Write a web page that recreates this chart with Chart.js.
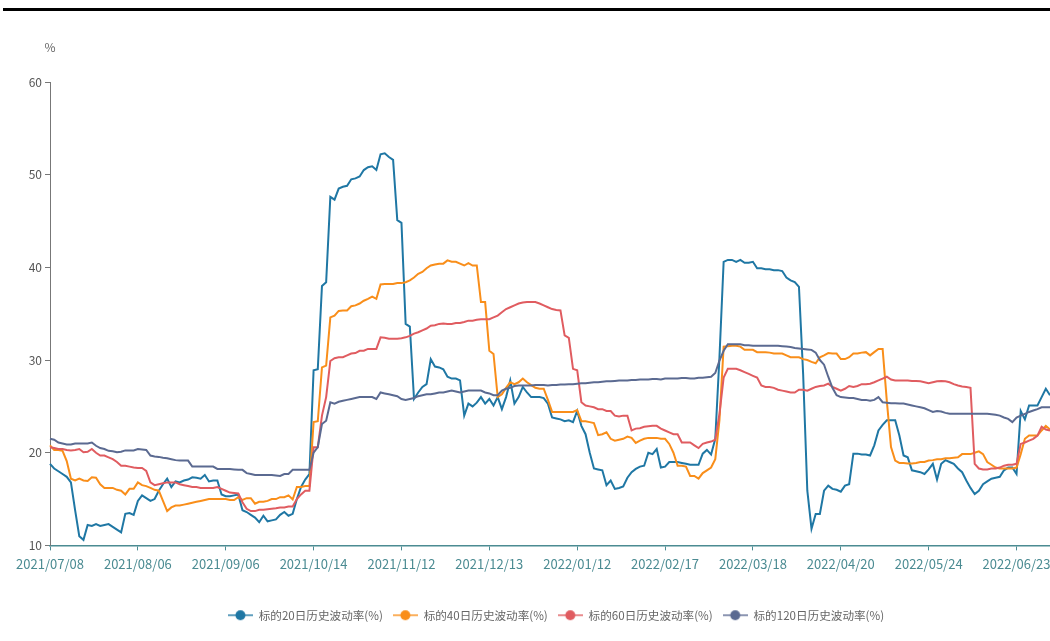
<!DOCTYPE html>
<html>
<head>
<meta charset="utf-8">
<script src="https://cdn.jsdelivr.net/npm/chart.js@4.4.0/dist/chart.umd.min.js"></script>
<style>
  body { margin: 0; background: #fff; overflow: hidden; }
  #wrap { position: relative; width: 1050px; height: 641px; overflow: hidden; }
  #topline { position: absolute; left: 3px; right: 0; top: 8px; height: 3px; background: #000; }
  #chart { position: absolute; left: 0; top: 0; }
</style>
</head>
<body>
<div id="wrap">
  <div id="topline"></div>
  <canvas id="chart" width="1112" height="641"></canvas>
</div>
<script>
// trading days
const dates = [
  "2021/07/08","2021/07/09","2021/07/12","2021/07/13","2021/07/14","2021/07/15","2021/07/16","2021/07/19","2021/07/20","2021/07/21","2021/07/22","2021/07/23","2021/07/26","2021/07/27","2021/07/28","2021/07/29","2021/07/30",
  "2021/08/02","2021/08/03","2021/08/04","2021/08/05","2021/08/06","2021/08/09","2021/08/10","2021/08/11","2021/08/12","2021/08/13","2021/08/16","2021/08/17","2021/08/18","2021/08/19","2021/08/20","2021/08/23","2021/08/24","2021/08/25","2021/08/26","2021/08/27","2021/08/30","2021/08/31",
  "2021/09/01","2021/09/02","2021/09/03","2021/09/06","2021/09/07","2021/09/08","2021/09/09","2021/09/10","2021/09/13","2021/09/14","2021/09/15","2021/09/16","2021/09/17","2021/09/22","2021/09/23","2021/09/24","2021/09/27","2021/09/28","2021/09/29","2021/09/30",
  "2021/10/08","2021/10/11","2021/10/12","2021/10/13","2021/10/14","2021/10/15","2021/10/18","2021/10/19","2021/10/20","2021/10/21","2021/10/22","2021/10/25","2021/10/26","2021/10/27","2021/10/28","2021/10/29",
  "2021/11/01","2021/11/02","2021/11/03","2021/11/04","2021/11/05","2021/11/08","2021/11/09","2021/11/10","2021/11/11","2021/11/12","2021/11/15","2021/11/16","2021/11/17","2021/11/18","2021/11/19","2021/11/22","2021/11/23","2021/11/24","2021/11/25","2021/11/26","2021/11/29","2021/11/30",
  "2021/12/01","2021/12/02","2021/12/03","2021/12/06","2021/12/07","2021/12/08","2021/12/09","2021/12/10","2021/12/13","2021/12/14","2021/12/15","2021/12/16","2021/12/17","2021/12/20","2021/12/21","2021/12/22","2021/12/23","2021/12/24","2021/12/27","2021/12/28","2021/12/29","2021/12/30","2021/12/31",
  "2022/01/04","2022/01/05","2022/01/06","2022/01/07","2022/01/10","2022/01/11","2022/01/12","2022/01/13","2022/01/14","2022/01/17","2022/01/18","2022/01/19","2022/01/20","2022/01/21","2022/01/24","2022/01/25","2022/01/26","2022/01/27","2022/01/28",
  "2022/02/07","2022/02/08","2022/02/09","2022/02/10","2022/02/11","2022/02/14","2022/02/15","2022/02/16","2022/02/17","2022/02/18","2022/02/21","2022/02/22","2022/02/23","2022/02/24","2022/02/25","2022/02/28",
  "2022/03/01","2022/03/02","2022/03/03","2022/03/04","2022/03/07","2022/03/08","2022/03/09","2022/03/10","2022/03/11","2022/03/14","2022/03/15","2022/03/16","2022/03/17","2022/03/18","2022/03/21","2022/03/22","2022/03/23","2022/03/24","2022/03/25","2022/03/28","2022/03/29","2022/03/30","2022/03/31",
  "2022/04/01","2022/04/06","2022/04/07","2022/04/08","2022/04/11","2022/04/12","2022/04/13","2022/04/14","2022/04/15","2022/04/18","2022/04/19","2022/04/20","2022/04/21","2022/04/22","2022/04/25","2022/04/26","2022/04/27","2022/04/28","2022/04/29",
  "2022/05/05","2022/05/06","2022/05/09","2022/05/10","2022/05/11","2022/05/12","2022/05/13","2022/05/16","2022/05/17","2022/05/18","2022/05/19","2022/05/20","2022/05/23","2022/05/24","2022/05/25","2022/05/26","2022/05/27","2022/05/30","2022/05/31",
  "2022/06/01","2022/06/02","2022/06/06","2022/06/07","2022/06/08","2022/06/09","2022/06/10","2022/06/13","2022/06/14","2022/06/15","2022/06/16","2022/06/17","2022/06/20","2022/06/21","2022/06/22","2022/06/23","2022/06/24","2022/06/27","2022/06/28","2022/06/29","2022/06/30",
  "2022/07/01","2022/07/04","2022/07/05"
];

// dates that get a label on the x axis
const tickDates = ["2021/07/08","2021/08/06","2021/09/06","2021/10/14","2021/11/12","2021/12/13","2022/01/12","2022/02/17","2022/03/18","2022/04/20","2022/05/24","2022/06/23"];

const vol20 = [
  18.8,18.3,18.0,17.7,17.4,16.8,13.8,11.0,10.6,12.2,
  12.1,12.3,12.1,12.2,12.3,12.0,11.7,11.4,13.4,13.5,
  13.3,14.8,15.4,15.1,14.8,15.0,15.9,16.6,17.2,16.3,
  16.9,16.8,17.0,17.1,17.35,17.3,17.2,17.6,16.9,17.0,
  17.0,15.5,15.3,15.3,15.4,15.5,13.8,13.6,13.3,13.0,
  12.5,13.2,12.6,12.7,12.8,13.3,13.6,13.2,13.4,15.0,
  16.3,17.1,17.7,28.9,29.0,38.0,38.4,47.6,47.3,48.5,
  48.7,48.8,49.5,49.6,49.8,50.5,50.8,50.9,50.5,52.2,
  52.3,51.9,51.6,45.1,44.8,33.9,33.6,25.8,26.5,27.1,
  27.4,30.1,29.3,29.2,29.0,28.2,28.0,28.0,27.8,24.0,
  25.3,25.0,25.4,26.0,25.3,25.8,25.1,26.0,24.7,26.0,
  27.8,25.3,26.0,27.1,26.5,26.0,26.0,26.0,25.9,25.3,
  23.8,23.7,23.6,23.4,23.5,23.3,24.5,22.9,22.0,20.0,
  18.3,18.2,18.1,16.5,17.0,16.1,16.2,16.35,17.3,17.9,
  18.25,18.5,18.6,20.0,19.85,20.4,18.4,18.5,19.0,19.0,
  19.0,18.9,18.8,18.7,18.7,18.7,19.9,20.3,19.8,21.5,
  30.3,40.6,40.8,40.8,40.6,40.8,40.5,40.5,40.6,39.9,
  39.9,39.8,39.8,39.7,39.7,39.6,38.9,38.6,38.4,37.9,
  28.5,15.9,11.8,13.4,13.4,15.9,16.45,16.1,16.0,15.8,
  16.45,16.6,19.9,19.9,19.8,19.8,19.7,20.8,22.4,23.0,
  23.5,23.5,23.5,21.85,19.7,19.5,18.1,18.0,17.9,17.7,
  18.2,18.8,17.1,18.8,19.2,19.0,18.8,18.3,17.9,17.0,
  16.2,15.55,15.9,16.6,16.9,17.2,17.3,17.4,18.1,18.4,
  18.4,17.7,24.5,23.6,25.1,25.1,25.1,26.0,26.9,26.2
];

const vol40 = [
  20.8,20.3,20.3,20.2,19.1,17.2,17.0,17.2,17.0,16.95,
  17.35,17.3,16.6,16.2,16.2,16.2,16.0,15.9,15.5,16.1,
  16.1,16.8,16.5,16.4,16.2,16.0,15.9,14.8,13.7,14.1,
  14.3,14.3,14.4,14.5,14.6,14.7,14.8,14.9,15.0,15.0,
  15.0,15.0,15.0,14.9,14.9,15.2,14.9,15.1,15.1,14.5,
  14.7,14.7,14.8,15.0,15.0,15.2,15.2,15.4,14.95,16.3,
  16.3,16.4,16.4,23.3,23.4,29.2,29.4,34.6,34.8,35.3,
  35.35,35.35,35.8,35.9,36.1,36.4,36.6,36.85,36.6,38.15,
  38.2,38.2,38.2,38.3,38.3,38.4,38.6,38.9,39.3,39.5,
  39.9,40.2,40.3,40.4,40.4,40.75,40.6,40.6,40.4,40.2,
  40.45,40.2,40.2,36.25,36.25,31.0,30.65,26.0,26.3,27.0,
  27.6,27.4,27.6,28.0,27.6,27.3,27.0,26.9,26.9,25.7,
  24.4,24.4,24.4,24.4,24.4,24.4,24.6,23.4,23.4,23.3,
  23.2,21.9,22.0,22.2,21.5,21.3,21.4,21.5,21.75,21.6,
  21.05,21.3,21.5,21.6,21.6,21.6,21.5,21.5,20.95,20.0,
  18.6,18.6,18.5,17.5,17.5,17.2,17.8,18.1,18.4,19.3,
  23.5,31.45,31.5,31.55,31.55,31.45,31.1,31.1,31.1,30.85,
  30.85,30.85,30.8,30.7,30.7,30.7,30.5,30.3,30.3,30.3,
  30.1,30.0,29.8,29.65,30.3,30.5,30.75,30.7,30.7,30.1,
  30.1,30.3,30.7,30.7,30.8,30.85,30.5,30.85,31.2,31.2,
  25.6,20.6,19.15,18.9,18.9,18.85,18.85,18.9,19.0,19.0,
  19.15,19.2,19.3,19.3,19.4,19.4,19.45,19.5,19.85,19.85,
  19.85,20.0,20.15,19.85,19.0,18.7,18.4,18.3,18.3,18.3,
  18.3,18.4,19.85,21.5,21.85,21.85,21.85,22.4,22.9,22.5
];

const vol60 = [
  20.6,20.5,20.4,20.4,20.3,20.25,20.3,20.4,20.05,20.1,
  20.4,20.0,19.7,19.7,19.5,19.3,19.0,18.6,18.6,18.5,
  18.4,18.35,18.35,18.05,16.8,16.5,16.6,16.7,16.8,16.8,
  16.8,16.6,16.5,16.4,16.3,16.3,16.2,16.2,16.2,16.2,
  16.3,16.1,15.9,15.7,15.65,15.6,14.65,13.95,13.7,13.7,
  13.85,13.85,13.9,13.95,14.0,14.1,14.1,14.2,14.2,15.0,
  15.5,15.9,15.9,20.6,20.6,24.0,26.0,29.9,30.2,30.3,
  30.3,30.5,30.7,30.75,31.0,31.0,31.2,31.2,31.2,32.45,
  32.4,32.3,32.3,32.3,32.35,32.45,32.6,32.85,33.0,33.2,
  33.4,33.7,33.75,33.9,33.95,33.9,33.9,34.0,34.0,34.1,
  34.25,34.25,34.35,34.4,34.4,34.4,34.6,34.8,35.15,35.5,
  35.7,35.9,36.1,36.2,36.25,36.25,36.25,36.1,35.9,35.7,
  35.5,35.4,35.35,32.65,32.4,29.05,28.9,25.45,25.1,25.0,
  24.9,24.7,24.7,24.5,24.5,24.0,23.9,24.0,24.0,22.4,
  22.6,22.65,22.8,22.85,22.9,22.9,22.6,22.4,22.2,22.0,
  22.0,21.1,21.1,21.1,20.8,20.5,20.95,21.1,21.2,21.4,
  24.2,28.1,29.05,29.05,29.05,28.9,28.7,28.5,28.3,28.1,
  27.25,27.1,27.1,27.0,26.8,26.7,26.6,26.5,26.5,26.8,
  26.8,26.7,26.9,27.1,27.2,27.25,27.45,27.1,26.9,26.7,
  26.9,27.2,27.1,27.2,27.4,27.4,27.45,27.6,27.8,28.0,
  28.2,27.9,27.8,27.8,27.8,27.8,27.75,27.75,27.7,27.6,
  27.5,27.6,27.7,27.75,27.7,27.6,27.4,27.25,27.15,27.1,
  27.0,18.8,18.3,18.2,18.2,18.3,18.3,18.4,18.6,18.7,
  18.7,18.8,20.95,21.1,21.3,21.5,21.85,22.8,22.5,22.4
];

const vol120 = [
  21.5,21.4,21.1,21.0,20.9,20.9,21.0,21.0,21.0,21.0,
  21.1,20.75,20.5,20.4,20.2,20.15,20.05,20.1,20.25,20.25,
  20.25,20.4,20.35,20.3,19.7,19.6,19.55,19.45,19.4,19.3,
  19.2,19.15,19.15,19.15,18.5,18.5,18.5,18.5,18.5,18.5,
  18.25,18.25,18.25,18.25,18.2,18.15,18.15,17.8,17.7,17.6,
  17.6,17.6,17.6,17.6,17.55,17.5,17.7,17.7,18.15,18.15,
  18.15,18.15,18.15,20.0,20.6,23.1,23.45,25.45,25.3,25.5,
  25.6,25.7,25.8,25.9,26.0,26.0,26.0,26.0,25.8,26.5,
  26.4,26.3,26.2,26.1,25.8,25.7,25.8,25.9,26.1,26.2,
  26.3,26.3,26.4,26.5,26.5,26.6,26.7,26.6,26.5,26.6,
  26.7,26.7,26.7,26.7,26.5,26.4,26.2,26.2,26.7,26.9,
  27.0,27.2,27.25,27.25,27.25,27.25,27.3,27.3,27.3,27.25,
  27.3,27.3,27.35,27.35,27.4,27.4,27.45,27.5,27.5,27.55,
  27.6,27.6,27.65,27.7,27.7,27.75,27.8,27.8,27.8,27.85,
  27.85,27.9,27.9,27.9,27.95,27.95,27.9,28.0,28.0,28.0,
  28.0,28.05,28.05,28.0,28.0,28.1,28.1,28.15,28.2,28.6,
  29.95,31.0,31.7,31.7,31.7,31.7,31.6,31.6,31.55,31.55,
  31.55,31.55,31.55,31.55,31.55,31.5,31.45,31.4,31.3,31.25,
  31.2,31.15,31.1,30.8,30.0,29.5,28.2,27.0,26.2,26.0,
  25.95,25.9,25.9,25.8,25.7,25.7,25.6,25.7,26.0,25.45,
  25.4,25.35,25.35,25.3,25.3,25.2,25.1,25.0,24.9,24.8,
  24.6,24.4,24.5,24.45,24.3,24.2,24.2,24.2,24.2,24.2,
  24.2,24.2,24.2,24.2,24.2,24.15,24.1,24.0,23.8,23.65,
  23.3,23.8,24.0,24.2,24.4,24.55,24.7,24.9,24.9,24.9
];

const seriesNames = ["标的20日历史波动率(%)", "标的40日历史波动率(%)", "标的60日历史波动率(%)", "标的120日历史波动率(%)"];
const seriesColors = ["#1f77a4", "#f98e1a", "#e05c60", "#5b6a91"];
const seriesValues = [vol20, vol40, vol60, vol120];

const FONT = '"Noto Sans CJK SC", "Noto Sans", sans-serif';
const AXIS_TEAL = "#4b8b92";

// legend icon: short line with a dot in the middle
function legendIcon(color) {
  const c = document.createElement("canvas");
  c.width = 25;
  c.height = 12;
  const g = c.getContext("2d");
  g.strokeStyle = color;
  g.globalAlpha = 0.7;
  g.lineWidth = 2;
  g.beginPath();
  g.moveTo(0, 6);
  g.lineTo(25, 6);
  g.stroke();
  g.globalAlpha = 1;
  g.fillStyle = color;
  g.beginPath();
  g.arc(12.5, 6, 5, 0, Math.PI * 2);
  g.fill();
  return c;
}

// "%" above the y axis
const unitLabel = {
  id: "unitLabel",
  afterDraw(chart) {
    const { ctx, chartArea } = chart;
    ctx.save();
    ctx.font = "12px " + FONT;
    ctx.fillStyle = "#666";
    ctx.textAlign = "center";
    ctx.textBaseline = "middle";
    ctx.fillText("%", chartArea.left, chartArea.top - 35);
    ctx.restore();
  },
};

new Chart(document.getElementById("chart"), {
  type: "line",
  data: {
    labels: dates,
    datasets: seriesNames.map((name, i) => ({
      label: name,
      data: seriesValues[i],
      borderColor: seriesColors[i],
      backgroundColor: seriesColors[i],
      borderWidth: 2,
      pointRadius: 0,
      pointHoverRadius: 0,
      pointStyle: legendIcon(seriesColors[i]),
      tension: 0,
      order: 3 - i,
    })),
  },
  options: {
    responsive: false,
    animation: false,
    layout: { padding: { top: 82, right: 0, bottom: 10, left: 0 } },
    plugins: {
      legend: {
        position: "bottom",
        labels: {
          usePointStyle: true,
          pointStyleWidth: 25,
          boxHeight: 12,
          padding: 10,
          color: "#666",
          font: { family: FONT, size: 11.6 },
          sort: (a, b) => a.datasetIndex - b.datasetIndex,
        },
      },
      tooltip: { enabled: false },
    },
    scales: {
      x: {
        afterFit: (s) => { s.height = 54; },
        border: { color: AXIS_TEAL, width: 1.5 },
        grid: {
          drawOnChartArea: false,
          tickLength: 5,
          color: (c) => (c.tick && tickDates.includes(dates[c.tick.value]) ? AXIS_TEAL : "rgba(0,0,0,0)"),
        },
        ticks: {
          autoSkip: false,
          maxRotation: 0,
          color: AXIS_TEAL,
          padding: 6,
          font: { family: FONT, size: 13 },
          callback: (v) => (tickDates.includes(dates[v]) ? dates[v] : null),
        },
      },
      y: {
        min: 10,
        max: 60,
        afterFit: (s) => { s.width = 50; },
        border: { color: "#777", width: 1 },
        grid: { drawOnChartArea: false, tickLength: 5, color: "#777" },
        ticks: { stepSize: 10, color: "#555", padding: 3, font: { family: FONT, size: 12 } },
      },
      // empty strip on the right: the plot stops at the window edge
      spacer: {
        position: "right",
        min: 0,
        max: 1,
        afterFit: (s) => { s.width = 62; },
        grid: { display: false },
        border: { display: false },
        ticks: { display: false },
      },
    },
  },
  plugins: [unitLabel],
});
</script>
</body>
</html>
